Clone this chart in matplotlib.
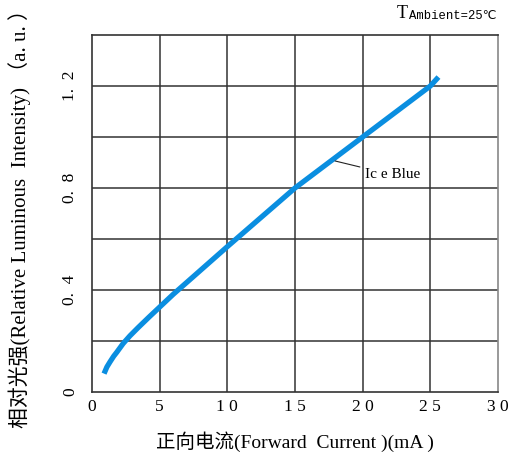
import numpy as np
import matplotlib
matplotlib.use('Agg')
import matplotlib.pyplot as plt

# Curva: corriente directa (mA) vs intensidad relativa
corriente = [0.89, 1.1, 1.33, 1.6, 1.82, 2.3, 2.8, 3.4, 4.2, 5.0, 6.0, 7.5,
             10.0, 12.5, 15.0, 17.5, 20.0, 22.5, 25.0, 25.6]
intensidad = [0.072, 0.098, 0.118, 0.14, 0.155, 0.19, 0.22, 0.252, 0.293, 0.333, 0.383, 0.453,
              0.57, 0.685, 0.80, 0.90, 1.0, 1.10, 1.20, 1.235]

x_ticks = [0, 5, 10, 15, 20, 25, 30]
x_labels = ['0', '5', '1 0', '1 5', '2 0', '2 5', '3 0']
y_ticks = [0, 0.4, 0.8, 1.2]
y_labels = ['0', '0.  4', '0.  8', '1.  2']
y_grid = [0.2, 0.4, 0.6, 0.8, 1.0, 1.2]

serif = ['Liberation Serif', 'Noto Sans CJK SC', 'DejaVu Sans']
plt.rcParams['font.family'] = serif

fig = plt.figure(figsize=(5.18, 4.63), dpi=100)
ax = fig.add_axes([0.1776, 0.1534, 0.9614 - 0.1776, 0.9244 - 0.1534])

ax.plot(corriente, intensidad, color='#0a8ee0', lw=3.8,
        solid_capstyle='butt', solid_joinstyle='round')

ax.set_xlim(0, 30)
ax.set_ylim(0, 1.4)

# Rejilla
for xv in x_ticks[1:-1]:
    ax.axvline(xv, color='#333333', lw=1.1, zorder=0)
for yv in y_grid:
    ax.axhline(yv, color='#333333', lw=1.1, zorder=0)

for s in ax.spines.values():
    s.set_color('#333333')
    s.set_linewidth(1.2)
ax.spines['right'].set_color('#888888')

ax.set_xticks(x_ticks)
ax.set_xticklabels(x_labels, fontsize=12.5)
ax.set_yticks(y_ticks)
ax.set_yticklabels(y_labels, fontsize=12.5, rotation=90, va='center')
ax.tick_params(axis='x', length=0, pad=5)
ax.tick_params(axis='y', length=0, pad=10)

ax.set_xlabel('正向电流(Forward  Current )(mA )', fontsize=14, labelpad=12)
ax.yaxis.set_label_coords(-0.15, 0.455)
ax.set_ylabel('相对光强(Relative Luminous  Intensity) （a. u. ）', fontsize=15)

ax.annotate('Ic e Blue', xy=(17.96, 0.906), xytext=(20.2, 0.851),
            fontsize=11, va='center', ha='left',
            arrowprops=dict(arrowstyle='-', color='#222222', lw=0.8,
                            shrinkA=2, shrinkB=0))

fig.text(0.766, 0.970, 'T', fontsize=13, ha='left', va='center')
fig.text(0.790, 0.966, 'Ambient=25℃', fontsize=8.8, ha='left', va='center',
         family=['Liberation Mono', 'DejaVu Sans'])

fig.savefig('out.png', dpi=100)
